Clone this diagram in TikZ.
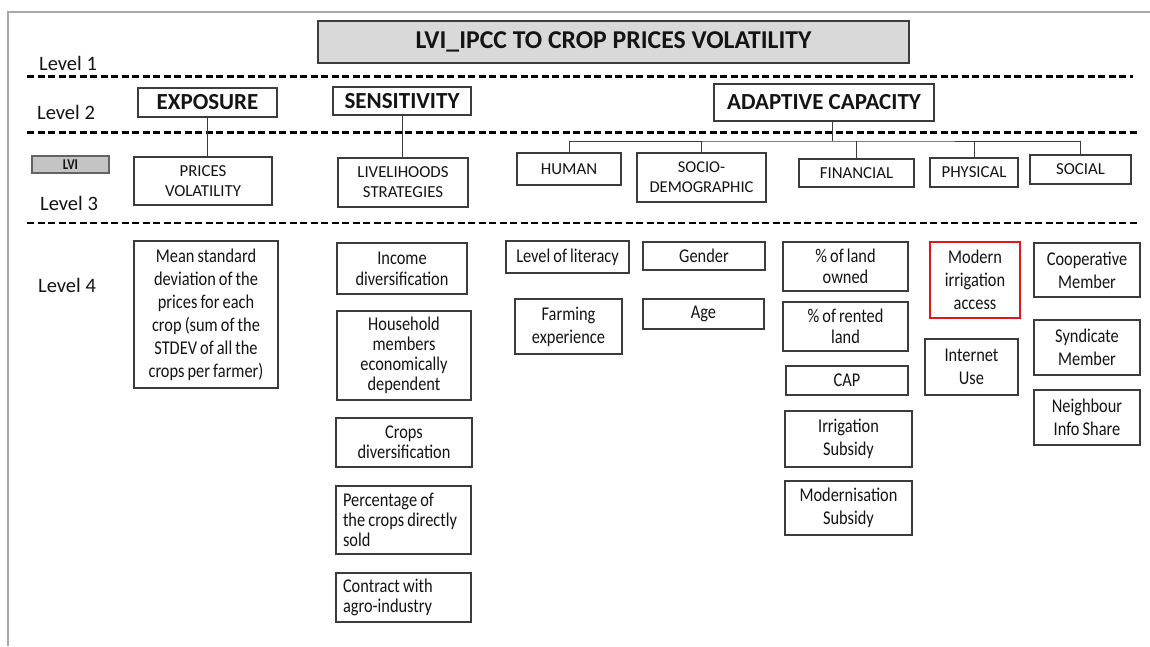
\documentclass[tikz,border=0pt]{standalone}
\usepackage{fontspec}
\setmainfont{Carlito}
% narrow cut used for the indicator boxes
\newfontfamily\narrowfont{Carlito}[FakeStretch=0.84, WordSpace=0.84]
\definecolor{boxline}{HTML}{3C3C3C}
\definecolor{txt}{HTML}{141414}
\definecolor{titlefill}{HTML}{D9D9D9}
\definecolor{lvifill}{HTML}{C4C4C4}
\definecolor{framegray}{HTML}{A8A8A8}
\definecolor{hilite}{HTML}{E3161E}
\begin{document}
\begin{tikzpicture}[x=1pt,y=-1pt,
  box/.style={draw=boxline, line width=1.1pt, inner sep=0pt, align=center, text=txt},
  lvlA/.style={font=\fontsize{25.7}{30}\selectfont\bfseries},
  lvlB/.style={font=\fontsize{23}{28}\selectfont\bfseries},
  lvlC/.style={font=\fontsize{16.8}{20}\selectfont},
  lvlD/.style={font=\narrowfont\fontsize{19.5}{23}\selectfont},
  tag/.style={anchor=west, inner sep=0pt, text=txt, font=\fontsize{20.5}{24}\selectfont},
  sep/.style={line width=2.6pt, dash pattern=on 7pt off 3.5pt, black},
  link/.style={draw=boxline, line width=0.9pt}]

\fill[white] (0,0) rectangle (1150,646);
\useasboundingbox (0,0) rectangle (1150,646);

% page frame (top and left edges)
\draw[framegray, line width=1.5pt] (1150,12) -- (8,12) -- (8,646);

% level separators
\draw[sep] (27,76.7) -- (1133,76.7);
\draw[sep] (27,132.3) -- (1140,132.3);
\draw[sep] (27,223) -- (1140,223);

% level labels
\node[tag] (l1) at (39,63) {Level 1};
\node[tag] (l2) at (37,112) {Level 2};
\node[tag] (l3) at (40,203) {Level 3};
\node[tag] (l4) at (38,285) {Level 4};
\node[box, fill=lvifill, draw=boxline!80, minimum width=77pt, minimum height=17pt,
      font=\narrowfont\fontsize{15}{16}\selectfont\bfseries] (lvi) at (70.5,164.5) {LVI};

% level 1: index
\node[box, fill=titlefill, lvlA, minimum width=591pt, minimum height=42pt] (title) at (613.5,42)
  {LVI\_IPCC TO CROP PRICES VOLATILITY};

% level 2: components
\node[box, lvlB, minimum width=139pt, minimum height=29pt] (expo) at (207.5,102.5) {EXPOSURE};
\node[box, lvlB, minimum width=138pt, minimum height=28pt] (sens) at (402,101) {SENSITIVITY};
\node[box, lvlB, minimum width=220pt, minimum height=37pt] (adap) at (824,102.5) {ADAPTIVE CAPACITY};

% level 3: sub-components
\node[box, lvlC, minimum width=138pt, minimum height=48pt] (prices) at (203,181) {PRICES\\VOLATILITY};
\node[box, lvlC, minimum width=130pt, minimum height=49pt] (live) at (403,182.5) {LIVELIHOODS\\STRATEGIES};
\node[box, lvlC, minimum width=104pt, minimum height=32pt] (human) at (569,169) {HUMAN};
\node[box, lvlC, font=\fontsize{16.5}{20}\selectfont, minimum width=129pt, minimum height=49pt] (socio) at (701.5,177.5) {SOCIO-\\DEMOGRAPHIC};
\node[box, lvlC, minimum width=115pt, minimum height=28pt] (fin) at (856.5,173) {FINANCIAL};
\node[box, lvlC, minimum width=88pt, minimum height=29pt] (phys) at (974,172.5) {PHYSICAL};
\node[box, lvlC, minimum width=101pt, minimum height=29pt] (soc) at (1080.5,169.5) {SOCIAL};

% tree links
\draw[link] (expo.south) -- (expo.south |- prices.north);
\draw[link] (sens.south) -- (sens.south |- live.north);
\coordinate (bus) at (832,141);
\draw[link] ([xshift=8pt]adap.south) -- (bus);
\draw[link] (human.north) |- (bus) -| (soc.north);
\draw[link] (socio.north) -- (socio.north |- bus);
\draw[link] (fin.north) -- (fin.north |- bus);
\draw[link] (phys.north) -- (phys.north |- bus);

% level 4: indicators
\node[box, lvlD, minimum width=144pt, minimum height=147pt] (mean) at (206,314.5)
  {Mean standard\\deviation of the\\prices for each\\crop (sum of the\\STDEV of all the\\crops per farmer)};

\node[box, lvlD, font=\narrowfont\fontsize{19.5}{21}\selectfont, minimum width=130pt, minimum height=51pt] (income) at (402,268.5) {Income\\diversification};
\node[box, lvlD, font=\narrowfont\fontsize{19.5}{20}\selectfont, minimum width=134pt, minimum height=89pt] (house) at (404,355.5) {Household\\members\\economically\\dependent};
\node[box, lvlD, font=\narrowfont\fontsize{19.5}{20}\selectfont, minimum width=136pt, minimum height=49pt] (cropsdiv) at (404,442.5) {Crops\\diversification};
\node[box, lvlD, font=\narrowfont\fontsize{19.5}{20}\selectfont, align=flush left, text width=121pt, inner xsep=7pt, minimum height=68pt] (sold) at (403.5,520) {Percentage of\\the crops directly\\sold};
\node[box, lvlD, font=\narrowfont\fontsize{19.5}{20.5}\selectfont, align=flush left, text width=121pt, inner xsep=7pt, minimum height=49pt] (contract) at (403.5,597.5) {Contract with\\agro-industry};

\node[box, lvlD, minimum width=123pt, minimum height=32pt] (literacy) at (567.5,257) {Level of literacy};
\node[box, lvlD, minimum width=107pt, minimum height=55pt] (farming) at (568.5,326.5) {Farming\\experience};

\node[box, lvlD, minimum width=122pt, minimum height=28pt] (gender) at (704,256) {Gender};
\node[box, lvlD, minimum width=121pt, minimum height=30pt] (age) at (703.5,314) {Age};

\node[box, lvlD, font=\narrowfont\fontsize{19.5}{21}\selectfont, minimum width=125pt, minimum height=49pt] (owned) at (845.5,266.5) {\% of land\\owned};
\node[box, lvlD, font=\narrowfont\fontsize{19.5}{21}\selectfont, minimum width=125pt, minimum height=49pt] (rented) at (845.5,326.5) {\% of rented\\land};
\node[box, lvlD, minimum width=122pt, minimum height=29pt] (cap) at (847,380.5) {CAP};
\node[box, lvlD, minimum width=127pt, minimum height=56pt] (irrsub) at (848.5,439) {Irrigation\\Subsidy};
\node[box, lvlD, minimum width=127pt, minimum height=54pt] (modsub) at (848.5,508) {Modernisation\\Subsidy};

\node[box, lvlD, draw=hilite, line width=2.6pt, minimum width=90pt, minimum height=76pt] (modirr) at (975,280) {Modern\\irrigation\\access};
\node[box, lvlD, minimum width=93pt, minimum height=56pt] (internet) at (971.5,367) {Internet\\Use};

\node[box, lvlD, minimum width=106pt, minimum height=54pt] (coop) at (1087,270) {Cooperative\\Member};
\node[box, lvlD, minimum width=106pt, minimum height=55pt] (synd) at (1087,347.5) {Syndicate\\Member};
\node[box, lvlD, minimum width=106pt, minimum height=55pt] (neigh) at (1087,417.5) {Neighbour\\Info Share};

\end{tikzpicture}
\end{document}
